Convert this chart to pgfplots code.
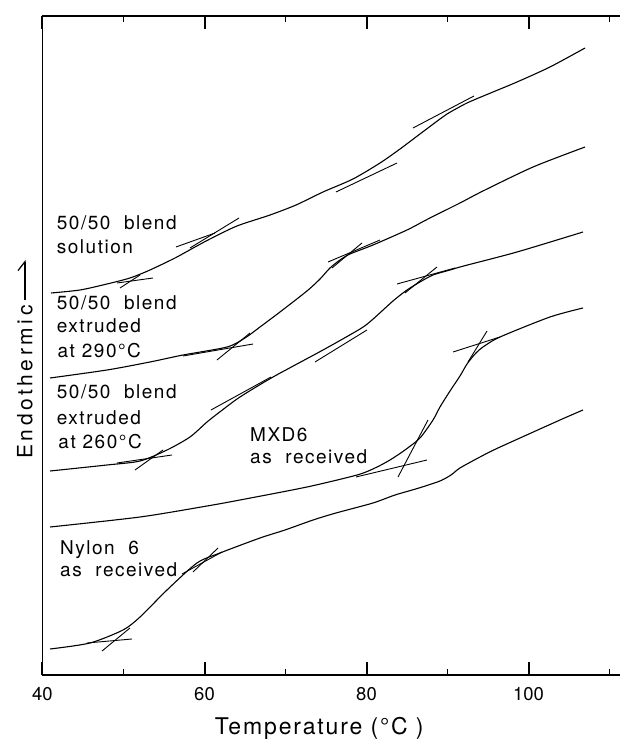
\documentclass[border=0pt]{standalone}
\usepackage{fontspec}
\setmainfont{TeX Gyre Heros}
\newfontfamily\lblfont[LetterSpace=8]{TeX Gyre Heros}
\newfontfamily\axfont[LetterSpace=8]{TeX Gyre Heros}
\newfontfamily\yfont[LetterSpace=17]{TeX Gyre Heros}
\usepackage{pgfplots}
\pgfplotsset{compat=1.18}
\usetikzlibrary{arrows.meta}

\tikzset{
  trace/.style={black, line width=1.1pt, smooth, tension=0.45},
  tang/.style={black, line width=0.9pt},
  curvelabel/.style={anchor=base west, inner sep=0pt, font=\lblfont\fontsize{19}{22}\selectfont},
}

\begin{document}
\begin{tikzpicture}
% the frame runs past the right edge of the page, so only the left, bottom and top lines show
\begin{axis}[
  name=ax,
  scale only axis,
  width=579.5pt, height=659pt,
  xmin=40, xmax=111.543, ymin=0, ymax=659,
  axis line style={line width=1.6pt},
  xtick={40,60,80,100},
  minor xtick={50,70,90,110},
  xticklabels={40,60,80,100},
  ytick=\empty,
  tick align=inside,
  xtick pos=both,
  major tick length=13pt,
  minor tick length=6pt,
  every major tick/.append style={draw=black, line width=2pt},
  every minor tick/.append style={draw=black, line width=1.8pt},
  xticklabel style={font=\fontsize{18.5}{20}\selectfont, anchor=base, yshift=-25pt, inner sep=0pt},
  xlabel={Temperature (°C )},
  xlabel style={font=\axfont\fontsize{23}{26}\selectfont, at={(axis description cs:0.4775,-0.091)}, anchor=base, inner sep=0pt},
  ylabel={Endothermic\hspace{5pt}\tikz[baseline={(0,-7.5pt)}]\draw[line width=1.2pt,-{Straight Barb[left,length=9pt,width=14pt]}] (0,0) -- (40pt,0);},
  ylabel style={font=\yfont\fontsize{21}{24}\selectfont, at={(axis description cs:-0.0302,0.4795)}, anchor=center, inner sep=0pt},
  clip=false,
]

% 50/50 blend, solution cast
\addplot[trace] coordinates {
  (41.05,382) (44.63,385) (47.96,391) (50.80,397) (53.27,405) (56.36,417)
  (58.83,428) (60.68,436) (64.01,449) (68.09,460) (71.30,470) (74.63,483)
  (78.33,496) (81.67,512) (84.14,526) (86.60,541) (89.07,556) (89.94,561)
  (92.41,572) (95.62,583) (98.58,593) (102.65,608) (106.98,627)
};
\addplot[tang] coordinates {(49.20,392) (53.64,397)};
\addplot[tang] coordinates {(49.57,387) (52.04,400)};
\addplot[tang] coordinates {(56.48,428) (61.30,442)};
\addplot[tang] coordinates {(58.21,427) (64.26,457)};
\addplot[tang] coordinates {(76.23,483) (83.77,512)};
\addplot[tang] coordinates {(85.74,547) (93.27,579)};

% 50/50 blend extruded at 290 C
\addplot[trace] coordinates {
  (40.93,297) (47.96,305) (53.27,313) (57.35,320) (62.78,328) (65.00,337)
  (66.85,348) (69.32,363) (72.65,384) (74.26,396) (75.49,407) (76.73,415)
  (77.96,421) (80.80,430) (85.00,445) (87.59,456) (91.54,472) (94.38,484)
  (100.56,508) (106.98,528)
};
\addplot[tang] coordinates {(57.35,319) (65.99,331)};
\addplot[tang] coordinates {(61.54,315) (65.62,342)};
\addplot[tang] coordinates {(75.25,413) (81.67,435)};
\addplot[tang] coordinates {(75.74,407) (79.44,432)};

% 50/50 blend extruded at 260 C
\addplot[trace] coordinates {
  (40.93,204) (47.96,210) (52.04,214) (55.37,225) (58.21,238) (60.31,253)
  (62.04,264) (64.38,278) (68.46,298) (74.63,325) (79.20,346) (80.68,355)
  (83.27,374) (85.00,385) (86.60,393) (88.21,400) (90.31,405) (92.00,409)
  (98.58,423) (106.73,443)
};
\addplot[tang] coordinates {(49.20,212) (55.99,220)};
\addplot[tang] coordinates {(51.42,205) (54.88,225)};
\addplot[tang] coordinates {(60.80,265) (68.21,298)};
\addplot[tang] coordinates {(73.64,313) (80.06,345)};
\addplot[tang] coordinates {(83.77,391) (90.93,407)};
\addplot[tang] coordinates {(84.75,382) (88.70,408)};

% MXD6 as received
\addplot[trace] coordinates {
  (40.93,148) (52.04,158) (60.31,169) (64.38,175) (72.65,188) (78.83,200)
  (81.05,207) (82.90,215) (84.75,225) (86.60,237) (88.21,255) (89.07,268)
  (90.31,284) (91.54,299) (92.41,311) (93.40,321) (94.38,328) (96.48,338)
  (102.65,358) (106.73,367)
};
\addplot[tang] coordinates {(78.70,198) (87.47,215)};
\addplot[tang] coordinates {(83.89,198) (87.59,255)};
\addplot[tang] coordinates {(90.68,323) (96.48,338)};
\addplot[tang] coordinates {(92.53,313) (94.88,344)};

% Nylon 6 as received
\addplot[trace] coordinates {
  (40.93,26) (45.86,32) (49.94,45) (52.04,58) (55.37,85) (59.07,112)
  (61.91,122) (66.85,137) (69.94,145) (73.40,155) (76.23,162) (80.80,172)
  (83.52,180) (86.48,187) (89.07,194) (90.43,200) (91.54,207) (94.01,218)
  (96.23,227) (103.89,255) (106.73,265)
};
\addplot[tang] coordinates {(45.49,32) (51.05,36)};
\addplot[tang] coordinates {(47.35,24) (50.80,47)};
\addplot[tang] coordinates {(57.22,101) (62.16,123)};
\addplot[tang] coordinates {(58.58,103) (61.67,127)};

% sample labels
\node[curvelabel] at (axis cs:41.75,445) {50/50~~blend};
\node[curvelabel] at (axis cs:41.75,421) {solution};
\node[curvelabel] at (axis cs:41.75,365) {50/50~~blend};
\node[curvelabel] at (axis cs:41.75,342) {extruded};
\node[curvelabel] at (axis cs:41.85,317) {at~290°C};
\node[curvelabel] at (axis cs:41.75,276) {50/50~~blend};
\node[curvelabel] at (axis cs:41.75,250) {extruded};
\node[curvelabel] at (axis cs:41.95,226) {at~260°C};
\node[curvelabel] at (axis cs:65.62,233) {MXD6};
\node[curvelabel] at (axis cs:65.62,211) {as~~received};
\node[curvelabel] at (axis cs:42.16,121) {Nylon~~6};
\node[curvelabel] at (axis cs:42.16,99) {as~~received};
\end{axis}
\pgfresetboundingbox
\path ([xshift=-42.5pt,yshift=-64pt]ax.south west) rectangle ([xshift=-2pt,yshift=16pt]ax.north east);
\end{tikzpicture}
\end{document}
